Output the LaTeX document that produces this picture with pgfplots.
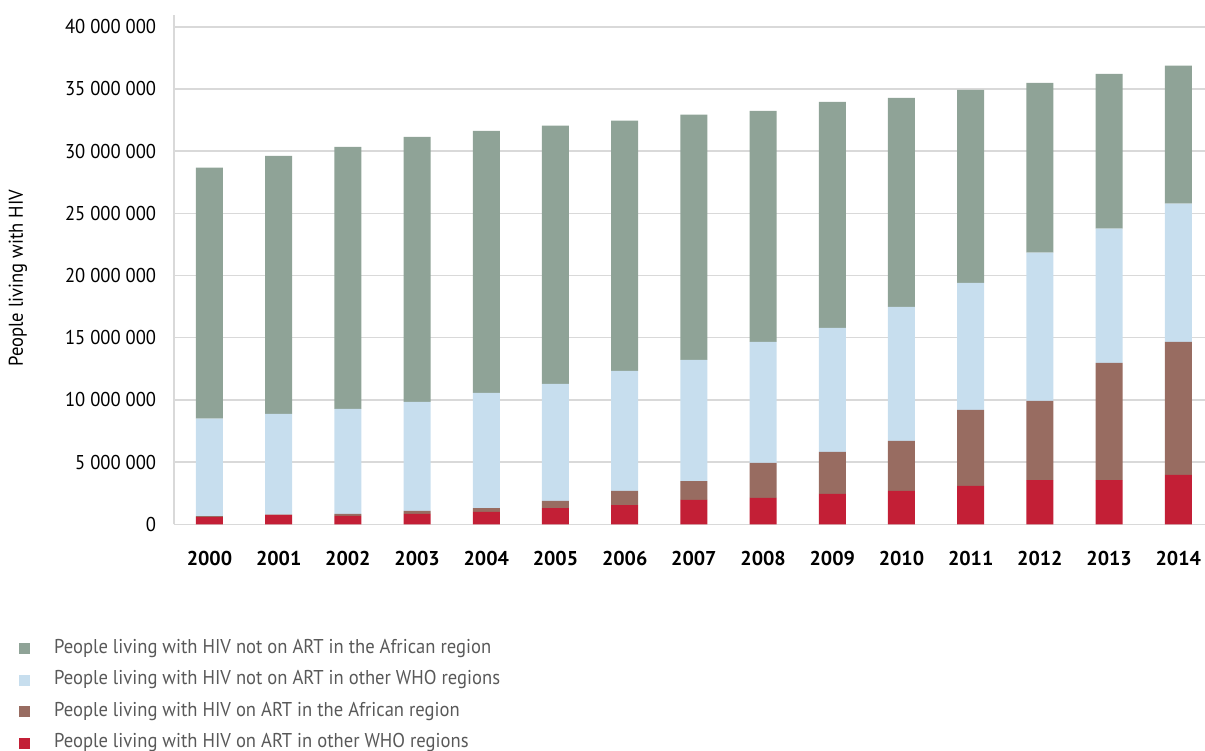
\documentclass[border=0pt]{standalone}
\usepackage{pgfplots}
\usepackage{pgfplotstable}
\pgfplotsset{compat=1.18}
\usepackage{fontspec}
\setmainfont{PT Sans}
\newfontfamily\narrowfont{PT Sans}[FakeStretch=0.93]
\definecolor{cgreen}{HTML}{8FA397}
\definecolor{cblue}{HTML}{C7DEEE}
\definecolor{cbrown}{HTML}{986C61}
\definecolor{cred}{HTML}{C31F36}
\definecolor{legtext}{HTML}{595959}
\definecolor{gridc}{HTML}{D9D9D9}
\pgfplotstableread{
x red brown blue green
0 580000 70000 7840000 20180000
1 750000 30000 8100000 20750000
2 670000 160000 8450000 21070000
3 830000 240000 8780000 21310000
4 990000 320000 9260000 21070000
5 1310000 570000 9420000 20750000
6 1550000 1130000 9660000 20110000
7 1960000 1520000 9740000 19710000
8 2120000 2810000 9740000 18580000
9 2440000 3380000 9980000 18170000
10 2680000 4020000 10780000 16810000
11 3080000 6120000 10220000 15510000
12 3560000 6360000 11920000 13650000
13 3560000 9420000 10790000 12450000
14 3970000 10700000 11110000 11100000
}\datatable
\begin{document}
\fontsize{20pt}{24pt}\selectfont
\begin{tikzpicture}
\useasboundingbox (0,0) rectangle (1205pt,751pt);
\begin{axis}[
  at={(174pt,226.7pt)}, anchor=south west,
  scale only axis, width=1031pt, height=509.3pt,
  ybar stacked, bar width=27pt,
  xmin=-0.513, xmax=14.386,
  ymin=0, ymax=40950000,
  ytick={0,5000000,10000000,15000000,20000000,25000000,30000000,35000000,40000000},
  xtick={0,1,2,3,4,5,6,7,8,9,10,11,12,13,14},
  xticklabels={2000,2001,2002,2003,2004,2005,2006,2007,2008,2009,2010,2011,2012,2013,2014},
  scaled y ticks=false,
  /pgf/number format/fixed,
  /pgf/number format/precision=0,
  /pgf/number format/1000 sep={\ },
  /pgf/number format/assume math mode=true,
  y tick label style={font=\fontsize{20pt}{24pt}\narrowfont, xshift=-11pt, text=black},
  x tick label style={font=\fontsize{20pt}{24pt}\selectfont\bfseries, yshift=-20pt, text=black},
  major tick length=0pt,
  axis x line*=bottom, axis y line*=left,
  axis line style={draw=gridc, line width=1.5pt},
  ymajorgrids, grid style={draw=gridc, line width=1.5pt},
  ylabel={People living with HIV},
  ylabel style={at={(axis description cs:-0.1513,0.4836)}, anchor=center, font=\fontsize{20pt}{24pt}\narrowfont},
  legend image code/.code={\fill[#1] (0pt,-5.5pt) rectangle (11pt,5.5pt);},
  reverse legend,
  legend cell align=left,
  legend style={at={(axis description cs:-0.1533,-0.2213)}, anchor=north west, draw=none, fill=none,
    font=\fontsize{20pt}{24pt}\narrowfont, text=legtext,
    nodes={inner sep=0pt, text height=14pt, text depth=5pt},
    /tikz/column sep=24pt, /tikz/row sep=12.5pt},
]
\addplot[fill=cred, draw=none] table[x=x, y=red] {\datatable};
\addlegendentry{People living with HIV on ART in other WHO regions}
\addplot[fill=cbrown, draw=none] table[x=x, y=brown] {\datatable};
\addlegendentry{People living with HIV on ART in the African region}
\addplot[fill=cblue, draw=none] table[x=x, y=blue] {\datatable};
\addlegendentry{People living with HIV not on ART in other WHO regions}
\addplot[fill=cgreen, draw=none] table[x=x, y=green] {\datatable};
\addlegendentry{People living with HIV not on ART in the African region}
\end{axis}
\end{tikzpicture}
\end{document}
